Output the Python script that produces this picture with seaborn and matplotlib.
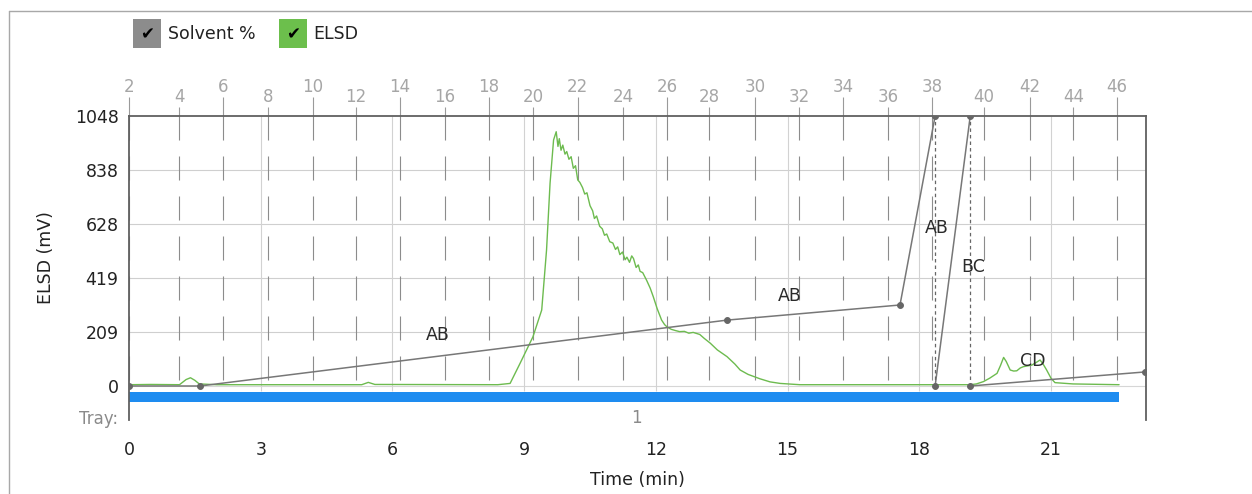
import matplotlib
matplotlib.use("Agg")
import matplotlib.pyplot as plt
import matplotlib.transforms as mtransforms
from matplotlib.patches import Rectangle
from matplotlib.lines import Line2D
import seaborn as sns
import pandas as pd

sns.set_theme(style="white")
plt.rcParams["font.family"] = ["DejaVu Sans"]
plt.rcParams["lines.scale_dashes"] = False

# ---------------- data ----------------
elsd_time = [0.0, 0.5, 1.15, 1.3, 1.4, 1.5, 1.6, 2.0, 5.3, 5.45, 5.6, 8.4, 8.68, 8.91, 9.20,
             9.40, 9.51, 9.59, 9.67, 9.73, 9.77, 9.80, 9.84, 9.88, 9.93, 9.97, 10.02, 10.07,
             10.12, 10.17, 10.22, 10.27, 10.33, 10.38, 10.43, 10.50, 10.56, 10.60, 10.65,
             10.72, 10.78, 10.83, 10.88, 10.95, 11.02, 11.08, 11.13, 11.18, 11.24, 11.30,
             11.34, 11.40, 11.45, 11.49, 11.55, 11.60, 11.64, 11.70, 11.79, 11.87, 11.94,
             12.03, 12.13, 12.20, 12.25, 12.35, 12.45, 12.54, 12.65, 12.75, 12.85, 13.0,
             13.1, 13.24, 13.4, 13.62, 13.8, 13.92, 14.1, 14.37, 14.6, 14.83, 15.28, 19.16,
             19.3, 19.46, 19.6, 19.77, 19.85, 19.92, 19.98, 20.07, 20.15, 20.22, 20.3, 20.37,
             20.56, 20.65, 20.75, 20.82, 20.9, 21.0, 21.09, 21.5, 22.55]
elsd_mv = [5, 6, 5, 25, 32, 22, 8, 5, 5, 14, 6, 5, 10, 89, 191,
           295, 528, 787, 955, 987, 930, 960, 915, 935, 900, 910, 880, 890,
           845, 855, 800, 790, 770, 745, 750, 700, 680, 650, 660,
           620, 610, 585, 590, 560, 555, 530, 540, 510, 520, 490,
           500, 480, 505, 495, 460, 470, 445, 440, 410, 380, 347,
           300, 256, 238, 230, 220, 215, 211, 212, 205, 208, 200,
           185, 166, 140, 114, 85, 62, 45, 28, 16, 10, 5, 5,
           8, 17, 30, 49, 80, 111, 95, 62, 58, 59, 70, 75,
           81, 90, 101, 85, 62, 30, 13, 8, 5]

# solvent gradient segments (time in min, solvent %)
seg_ab_time = [0.0, 1.62, 13.62, 17.56, 18.36]
seg_ab_pct = [0, 0, 24.4, 30.0, 100]
seg_bc_time = [18.36, 19.16]
seg_bc_pct = [0, 100]
seg_cd_time = [19.16, 23.14]
seg_cd_pct = [0, 5.2]
step_time = [18.36, 19.16]          # dotted drops back to 0 %
seg_labels = ["AB", "AB", "AB", "BC", "CD"]
seg_label_time = [7.04, 15.06, 18.40, 19.22, 20.59]
seg_label_pct = [18.9, 33.3, 58.5, 44.1, 9.3]

# fraction collector (top axis)
frac_labels = ["2", "4", "6", "8", "10", "12", "14", "16", "18", "20", "22", "24",
               "26", "28", "30", "32", "34", "36", "38", "40", "42", "44", "46"]
frac_time = [0.0, 1.15, 2.14, 3.16, 4.18, 5.16, 6.17, 7.19, 8.19, 9.21, 10.22, 11.25,
             12.25, 13.22, 14.26, 15.26, 16.26, 17.29, 18.29, 19.47, 20.51, 21.51, 22.50]

time_ticks = [0, 3, 6, 9, 12, 15, 18, 21]
elsd_ticks = [0, 209, 419, 628, 838, 1048]
tray_start, tray_end = 0.0, 22.55

# ---------------- figure ----------------
W, H = 1252, 494
fig = plt.figure(figsize=(W / 100, H / 100), dpi=100)
fig.patch.set_facecolor("white")
x0, x1, y_top, y_bot = 129, 1146, 116, 420
ax = fig.add_axes([x0 / W, (H - y_bot) / H, (x1 - x0) / W, (y_bot - y_top) / H])
ax.set_facecolor("white")

XMAX = 23.163
YMIN, YMAX = -132, 1048
ax.set_xlim(0, XMAX)
ax.set_ylim(YMIN, YMAX)

# grid
ax.hlines([209, 419, 628, 838], 0, XMAX, colors="#cfcfcf", lw=0.8, zorder=1)
ax.hlines([0], 0, XMAX, colors="#d6d6d6", lw=0.8, zorder=1)
ax.vlines(time_ticks[1:], -20, YMAX, colors="#d2d2d2", lw=0.8, zorder=1)
ax.vlines(frac_time, YMAX, -20, colors="#8c8c8c", lw=0.8,
          linestyles=[(0, (17.3, 11.5))], zorder=1.5)

# tray bar
ax.fill_between([tray_start, tray_end], [-62, -62], [-23, -23], color="#1e8cf0",
                lw=0, zorder=2)
blend = mtransforms.blended_transform_factory(ax.transAxes, ax.transData)
ax.text(-0.011, -128, "Tray:", transform=blend, ha="right", va="center",
        fontsize=12, color="#8a8a8a")
ax.text(11.55, -124, "1", ha="center", va="center", fontsize=12, color="#8a8a8a")

# ELSD trace
df_elsd = pd.DataFrame({"time": elsd_time, "mv": elsd_mv})
sns.lineplot(data=df_elsd, x="time", y="mv", ax=ax, color="#6dbb4f", lw=1.0,
             estimator=None, sort=False, zorder=3)

# solvent on twin axis
ax2 = ax.twinx()
ax2.set_ylim(YMIN / 10.48, 100)
ax2.set_yticks([])
for s in ax2.spines.values():
    s.set_visible(False)
sol_kw = dict(color="#777777", lw=1.1, marker="o", markersize=4.2,
              markerfacecolor="#666666", markeredgecolor="#666666",
              estimator=None, sort=False, zorder=4)
for tt, pp in [(seg_ab_time, seg_ab_pct), (seg_bc_time, seg_bc_pct), (seg_cd_time, seg_cd_pct)]:
    sns.lineplot(x=tt, y=pp, ax=ax2, **sol_kw)
ax2.vlines(step_time, 0, 100, colors="#666666", lw=0.9, linestyles=[(0, (2.5, 2.2))],
           zorder=4)
for lab, tt, pp in zip(seg_labels, seg_label_time, seg_label_pct):
    ax2.text(tt, pp, lab, ha="center", va="center", fontsize=12.5, color="#2a2a2a",
             zorder=5)
ax2.set_ylabel("")

# spines
for side in ["left", "right", "top"]:
    ax.spines[side].set_visible(True)
    ax.spines[side].set_color("#606060")
    ax.spines[side].set_linewidth(1.3)
ax.spines["bottom"].set_visible(False)

# ticks
ax.set_xticks(time_ticks)
ax.set_xticklabels([str(t) for t in time_ticks])
ax.set_yticks(elsd_ticks)
ax.set_yticklabels([str(v) for v in elsd_ticks])
ax.tick_params(axis="x", length=0, pad=15, labelsize=12.5, labelcolor="#222222")
ax.tick_params(axis="y", length=0, pad=7.5, labelsize=12.5, labelcolor="#222222")
ax.set_xlabel("Time (min)", fontsize=12.5, color="#222222")
ax.xaxis.set_label_coords(0.5, -0.168)
ax.set_ylabel("ELSD (mV)", fontsize=12.5, color="#222222")
ax.yaxis.set_label_coords(-0.073, 0.535)

# top fraction axis, staggered labels
for sl, length in [(slice(0, None, 2), 13.7), (slice(1, None, 2), 6.7)]:
    sec = ax.secondary_xaxis("top")
    sec.set_xticks(frac_time[sl])
    sec.set_xticklabels(frac_labels[sl])
    sec.tick_params(axis="x", length=length, width=0.8, color="#9a9a9a", pad=0.5,
                    labelsize=12, labelcolor="#a6a6a6")
    sec.spines["top"].set_visible(False)

# legend with check boxes
def px(x, y):
    return x / W, 1 - y / H

for (bx, color, label, tx) in [(133, "#8c8c8c", "Solvent %", 168), (279, "#6cbf4c", "ELSD", 313)]:
    lx, ly = px(bx, 48)
    fig.patches.append(Rectangle((lx, ly), 28 / W, 29 / H, transform=fig.transFigure,
                                 facecolor=color, edgecolor="none"))
    cx, cy = px(bx + 14, 34)
    fig.text(cx, cy, "\u2714", ha="center", va="center", fontsize=12, color="black")
    fig.text(tx / W, cy, label, ha="left", va="center", fontsize=12.5, color="#222222")

# outer frame
fig.lines.append(Line2D([9 / W, 9 / W], [0, 1 - 11 / H], transform=fig.transFigure,
                        color="#a8a8a8", lw=1))
fig.lines.append(Line2D([9 / W, 1], [1 - 11 / H, 1 - 11 / H], transform=fig.transFigure,
                        color="#a8a8a8", lw=1))

fig.savefig("out.png", dpi=100, facecolor="white")
